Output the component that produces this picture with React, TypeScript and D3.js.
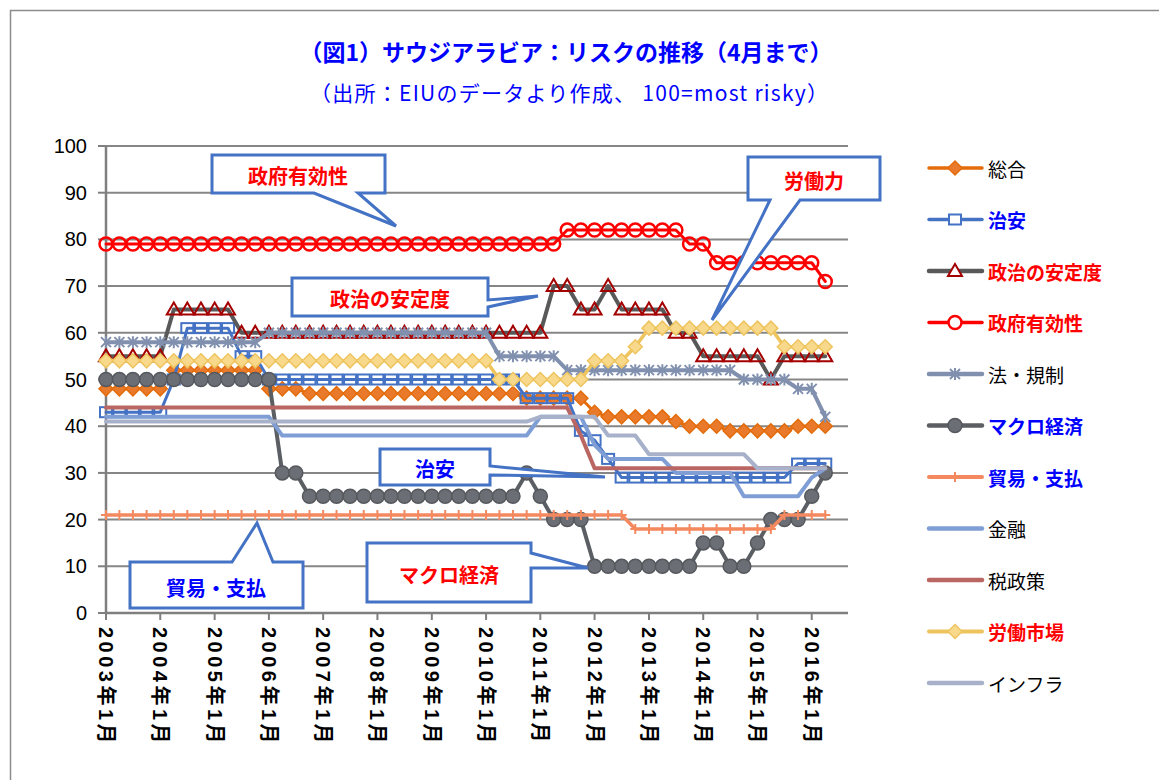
import React from "react";
import * as d3 from "d3";

// quarterly observations, 2003年1月 .. 2016年4月
const dates = d3.timeMonth.range(new Date(2003, 0, 1), new Date(2016, 4, 1), 3);
const yearTicks = d3.range(2003, 2017).map((y) => new Date(y, 0, 1));
const yTicks = [0, 10, 20, 30, 40, 50, 60, 70, 80, 90, 100];

const sogo = [48,48,48,48,48,52,52,52,52,52,52,52,48,48,48,47,47,47,47,47,47,47,47,47,47,47,47,47,47,47,47,46,46,46,46,46,43,42,42,42,42,42,41,40,40,40,39,39,39,39,39,40,40,40];
const chian = [43,43,43,43,43,50,61,61,61,61,55,55,50,50,50,50,50,50,50,50,50,50,50,50,50,50,50,50,50,50,50,46,46,46,46,39,37,33,29,29,29,29,29,29,29,29,29,29,29,29,29,32,32,32];
const seiji = [55,55,55,55,55,65,65,65,65,65,60,60,60,60,60,60,60,60,60,60,60,60,60,60,60,60,60,60,60,60,60,60,60,70,70,65,65,70,65,65,65,65,60,60,55,55,55,55,55,50,55,55,55,55];
const seifu = [79,79,79,79,79,79,79,79,79,79,79,79,79,79,79,79,79,79,79,79,79,79,79,79,79,79,79,79,79,79,79,79,79,79,82,82,82,82,82,82,82,82,82,79,79,75,75,75,75,75,75,75,75,71];
const houkisei = [58,58,58,58,58,58,58,58,58,58,58,58,60,60,60,60,60,60,60,60,60,60,60,60,60,60,60,60,60,55,55,55,55,55,52,52,52,52,52,52,52,52,52,52,52,52,52,50,50,50,50,48,48,42];
const macro = [50,50,50,50,50,50,50,50,50,50,50,50,50,30,30,25,25,25,25,25,25,25,25,25,25,25,25,25,25,25,25,30,25,20,20,20,10,10,10,10,10,10,10,10,15,15,10,10,15,20,20,20,25,30];
const boueki = [21,21,21,21,21,21,21,21,21,21,21,21,21,21,21,21,21,21,21,21,21,21,21,21,21,21,21,21,21,21,21,21,21,21,21,21,21,21,21,18,18,18,18,18,18,18,18,18,18,18,21,21,21,21];
const kinyu = [42,42,42,42,42,42,42,42,42,42,42,42,42,38,38,38,38,38,38,38,38,38,38,38,38,38,38,38,38,38,38,38,42,42,42,42,36,33,33,33,33,33,30,30,30,30,30,25,25,25,25,25,29,31];
const zeisei = [44,44,44,44,44,44,44,44,44,44,44,44,44,44,44,44,44,44,44,44,44,44,44,44,44,44,44,44,44,44,44,44,44,44,44,38,31,31,31,31,31,31,31,31,31,31,31,31,31,31,31,31,31,31];
const roudou = [54,54,54,54,54,54,54,54,54,54,54,54,54,54,54,54,54,54,54,54,54,54,54,54,54,54,54,54,54,50,50,50,50,50,50,50,54,54,54,57,61,61,61,61,61,61,61,61,61,61,57,57,57,57];
const infra = [41,41,41,41,41,41,41,41,41,41,41,41,41,41,41,41,41,41,41,41,41,41,41,41,41,41,41,41,41,41,41,41,42,42,42,42,42,38,38,38,34,34,34,34,34,34,34,34,31,31,31,31,31,31];

type Marker = "diamond" | "square" | "triangle" | "ring" | "dot" | "star" | "plus" | "none";

const series = [
  { name: "総合", values: sogo, color: "#E46C0A", w: 3, marker: "diamond", mFill: "#E97A2C", mStroke: "#E46C0A", text: "#000", bold: false },
  { name: "治安", values: chian, color: "#4472C4", w: 3, marker: "square", mFill: "none", mStroke: "#4472C4", text: "#0000FF", bold: true },
  { name: "政治の安定度", values: seiji, color: "#595959", w: 4, marker: "triangle", mFill: "none", mStroke: "#A50000", text: "#FF0000", bold: true },
  { name: "政府有効性", values: seifu, color: "#FF0000", w: 3, marker: "ring", mFill: "none", mStroke: "#FF0000", text: "#FF0000", bold: true },
  { name: "法・規制", values: houkisei, color: "#8090AE", w: 4, marker: "star", mFill: "none", mStroke: "#8090AE", text: "#000", bold: false },
  { name: "マクロ経済", values: macro, color: "#5B5E63", w: 4, marker: "dot", mFill: "#6B6E74", mStroke: "#55585D", text: "#0000FF", bold: true },
  { name: "貿易・支払", values: boueki, color: "#F4895F", w: 3.5, marker: "plus", mFill: "none", mStroke: "#F4895F", text: "#0000FF", bold: true },
  { name: "金融", values: kinyu, color: "#7F9ED6", w: 4, marker: "none", mFill: "none", mStroke: "none", text: "#000", bold: false },
  { name: "税政策", values: zeisei, color: "#BA6662", w: 4, marker: "none", mFill: "none", mStroke: "none", text: "#000", bold: false },
  { name: "労働市場", values: roudou, color: "#EEC45E", w: 3.5, marker: "diamond", mFill: "#F8D98C", mStroke: "#EEC45E", text: "#FF0000", bold: true },
  { name: "インフラ", values: infra, color: "#A7B1C9", w: 4, marker: "none", mFill: "none", mStroke: "none", text: "#000", bold: false },
];

const callouts = [
  { text: "政府有効性", color: "#FF0000", cx: 298, cy: 175, d: "M212,155 H385 V193 H358 L396,226 L314,193 H212 Z" },
  { text: "労働力", color: "#FF0000", cx: 814, cy: 180, d: "M748,157 H880 V200 H800 L712,320 L770,200 H748 Z" },
  { text: "政治の安定度", color: "#FF0000", cx: 390, cy: 298, d: "M292,278 H488 V300 L538,296 L488,307 V316 H292 Z" },
  { text: "治安", color: "#0000FF", cx: 435, cy: 468, d: "M380,449 H490 V466 L605,477 L490,475 V485 H380 Z" },
  { text: "貿易・支払", color: "#0000FF", cx: 216, cy: 587, d: "M130,562 H232 L257,523 L273,562 H303 V608 H130 Z" },
  { text: "マクロ経済", color: "#FF0000", cx: 449, cy: 574, d: "M367,543 H531 V553 L588,568 L531,568 V602 H367 Z" },
];

function MarkerShape({ kind, x, y, fill, stroke }: { kind: string; x: number; y: number; fill: string; stroke: string }) {
  const t = `translate(${x},${y})`;
  switch (kind as Marker) {
    case "diamond":
      return <path transform={t} d="M0,-7 L7,0 L0,7 L-7,0 Z" fill={fill} stroke={stroke} strokeWidth={1.5} />;
    case "square":
      return <rect transform={t} x={-6} y={-5} width={12} height={10} fill={fill} stroke={stroke} strokeWidth={2} />;
    case "triangle":
      return <path transform={t} d="M0,-7 L7,5 L-7,5 Z" fill={fill} stroke={stroke} strokeWidth={2} strokeLinejoin="miter" />;
    case "ring":
      return <circle transform={t} r={6.5} fill={fill} stroke={stroke} strokeWidth={2.5} />;
    case "dot":
      return <circle transform={t} r={7} fill={fill} stroke={stroke} strokeWidth={1.5} />;
    case "star":
      return <path transform={t} d="M-5,-5 L5,5 M-5,5 L5,-5 M0,-6 L0,6" fill="none" stroke={stroke} strokeWidth={2} />;
    case "plus":
      return <path transform={t} d="M0,-5 L0,5 M-5,0 L5,0" fill="none" stroke={stroke} strokeWidth={2} />;
    default:
      return null;
  }
}

export default function App() {
  const width = 1159;
  const height = 780;
  const x = d3.scaleTime().domain([new Date(2003, 0, 1), new Date(2016, 8, 1)]).range([106, 848]);
  const y = d3.scaleLinear().domain([0, 100]).range([613, 146]);
  const line = d3.line<number>().x((_, i) => x(dates[i])).y((v) => y(v));
  const jp = "'Noto Sans CJK JP', sans-serif";

  return (
    <svg width={width} height={height} style={{ position: "absolute", left: 0, top: 0, background: "#fff" }}>
      <rect x={10.5} y={10.5} width={1170} height={790} fill="#fff" stroke="#8c8c8c" strokeWidth={1.5} />

      <text x={566} y={51} textAnchor="middle" dominantBaseline="central" fontFamily={jp} fontWeight="bold" fontSize={23} fill="#0000FF">
        （図1）サウジアラビア：リスクの推移（4月まで）
      </text>
      <text x={569} y={92} textAnchor="middle" dominantBaseline="central" fontFamily={jp} fontSize={21} fill="#0000FF" textLength={518} lengthAdjust="spacing">
        （出所：EIUのデータより作成、 100=most risky）
      </text>

      {/* grid */}
      {yTicks.filter((t) => t > 0).map((t) => (
        <line key={t} x1={106} x2={848} y1={y(t)} y2={y(t)} stroke="#868686" strokeWidth={2} />
      ))}
      {yTicks.map((t) => (
        <g key={"yt" + t}>
          <line x1={98} x2={106} y1={y(t)} y2={y(t)} stroke="#7f7f7f" strokeWidth={2} />
          <text x={87} y={y(t)} textAnchor="end" dominantBaseline="central" fontFamily="'Liberation Sans', Arial, sans-serif" fontSize={20} fill="#000">
            {t}
          </text>
        </g>
      ))}
      {yearTicks.map((d) => (
        <g key={"xt" + d.getFullYear()}>
          <line x1={x(d)} x2={x(d)} y1={613} y2={620} stroke="#7f7f7f" strokeWidth={2} />
          <text
            transform={`translate(${x(d)},627) rotate(90)`}
            textAnchor="start"
            dominantBaseline="central"
            fontFamily="'Liberation Sans', 'Noto Sans CJK JP', sans-serif"
            fontWeight="bold"
            fontSize={20}
            letterSpacing={3.5}
            fill="#000"
          >
            {`${d.getFullYear()}年1月`}
          </text>
        </g>
      ))}
      <line x1={106} x2={106} y1={146} y2={614} stroke="#7f7f7f" strokeWidth={2.5} />
      <line x1={105} x2={848} y1={613} y2={613} stroke="#7f7f7f" strokeWidth={2.5} />

      {/* series */}
      {series.map((s) => (
        <g key={s.name}>
          <path d={line(s.values) || ""} fill="none" stroke={s.color} strokeWidth={s.w} strokeLinejoin="round" strokeLinecap="round" />
          {s.values.map((v, i) => (
            <MarkerShape key={i} kind={s.marker} x={x(dates[i])} y={y(v)} fill={s.mFill} stroke={s.mStroke} />
          ))}
        </g>
      ))}

      {/* callouts */}
      {callouts.map((c) => (
        <g key={c.text}>
          <path d={c.d} fill="#fff" stroke="#4472C4" strokeWidth={3} strokeLinejoin="miter" />
          <text x={c.cx} y={c.cy} textAnchor="middle" dominantBaseline="central" fontFamily={jp} fontWeight="bold" fontSize={20} fill={c.color}>
            {c.text}
          </text>
        </g>
      ))}

      {/* legend */}
      {series.map((s, k) => {
        const ly = 168 + k * 51.5;
        return (
          <g key={"lg" + s.name}>
            <line x1={929} x2={982} y1={ly} y2={ly} stroke={s.color} strokeWidth={s.w + 0.5} strokeLinecap="round" />
            <MarkerShape kind={s.marker} x={955} y={ly} fill={s.mFill === "none" ? "#fff" : s.mFill} stroke={s.mStroke} />
            <text x={988} y={ly} dominantBaseline="central" fontFamily={jp} fontWeight={s.bold ? "bold" : "normal"} fontSize={19} fill={s.text}>
              {s.name}
            </text>
          </g>
        );
      })}
    </svg>
  );
}
